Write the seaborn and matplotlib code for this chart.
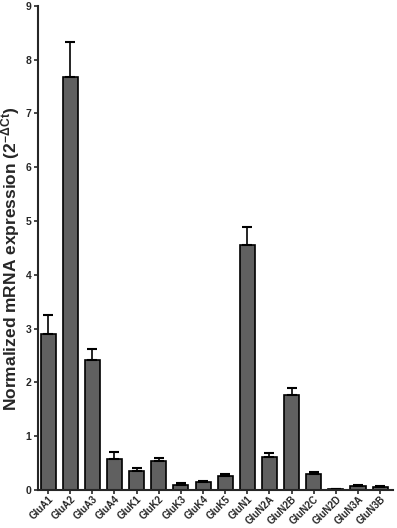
import numpy as np
import pandas as pd
import seaborn as sns
import matplotlib.pyplot as plt

# Receptor subunits and mean expression (2^-dCt) with SEM
subunits = ['GluA1', 'GluA2', 'GluA3', 'GluA4', 'GluK1', 'GluK2', 'GluK3', 'GluK4',
            'GluK5', 'GluN1', 'GluN2A', 'GluN2B', 'GluN2C', 'GluN2D', 'GluN3A', 'GluN3B']
expression = [2.90, 7.67, 2.42, 0.58, 0.36, 0.54, 0.10, 0.14,
              0.26, 4.55, 0.62, 1.76, 0.29, 0.02, 0.07, 0.05]
sem = [0.35, 0.66, 0.20, 0.12, 0.05, 0.06, 0.03, 0.02,
       0.03, 0.34, 0.07, 0.13, 0.04, 0.005, 0.015, 0.02]

df = pd.DataFrame({'Subunit': subunits, 'Expression': expression, 'SEM': sem})

sns.set_style('ticks')
plt.rcParams['font.family'] = ['Liberation Sans', 'DejaVu Sans']
plt.rcParams['font.weight'] = 'bold'
plt.rcParams['mathtext.fontset'] = 'custom'
plt.rcParams['mathtext.bf'] = 'Liberation Sans:bold'
plt.rcParams['mathtext.rm'] = 'Liberation Sans:bold'
plt.rcParams['mathtext.default'] = 'bf'

fig = plt.figure(figsize=(3.97, 5.28), dpi=100)
ax = fig.add_axes([0.096, 0.072, 0.895, 0.917])

sns.barplot(data=df, x='Subunit', y='Expression', color='#606060', saturation=1,
            edgecolor='black', linewidth=1.2, width=0.68, errorbar=None, ax=ax)

# upward-only error bars
pos = np.arange(len(subunits))
ax.errorbar(pos, df['Expression'], yerr=[np.zeros(len(sem)), df['SEM']],
            fmt='none', ecolor='black', elinewidth=1.2, capsize=3.5, capthick=1.5, zorder=1)

ax.set_ylim(0, 9)
ax.set_xlim(-0.45, 15.6)
ax.set_yticks(range(0, 10))
ax.set_xlabel('')
ax.set_ylabel(r'Normalized mRNA expression (2$^{-\Delta Ct}$)',
              fontsize=12.5, fontweight='bold')
ax.yaxis.set_label_coords(-0.045, 0.477)
ax.tick_params(axis='y', labelsize=7.5, width=1.2, length=3, pad=2)
ax.tick_params(axis='x', labelsize=7, width=1.2, length=3, pad=0, labelrotation=45)
plt.setp(ax.get_xticklabels(), ha='right', va='top',
         rotation_mode='anchor', fontweight='bold')
plt.setp(ax.get_yticklabels(), fontweight='bold')
for s in ['left', 'bottom']:
    ax.spines[s].set_linewidth(1.5)
sns.despine(ax=ax)

fig.savefig('out.png', dpi=100)
